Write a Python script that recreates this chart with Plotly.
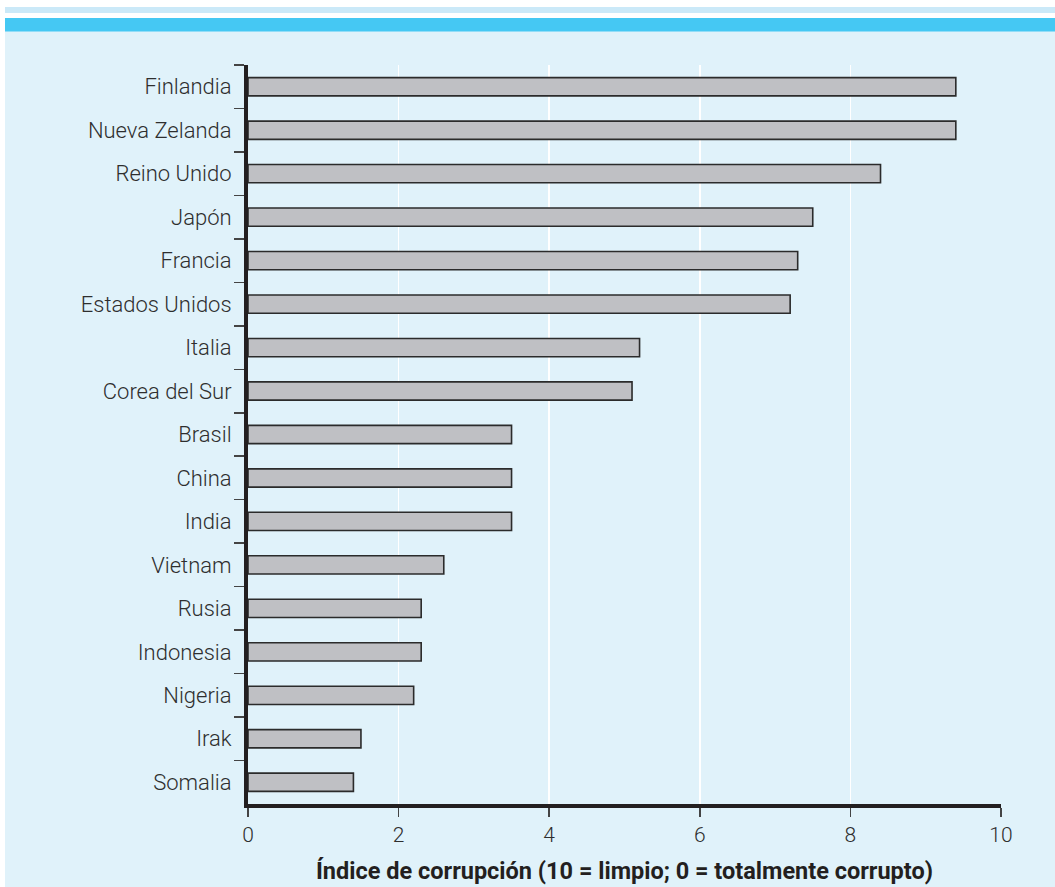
import plotly.graph_objects as go

countries = ["Finlandia", "Nueva Zelanda", "Reino Unido", "Japón", "Francia",
             "Estados Unidos", "Italia", "Corea del Sur", "Brasil", "China",
             "India", "Vietnam", "Rusia", "Indonesia", "Nigeria", "Irak", "Somalia"]
values = [9.4, 9.4, 8.4, 7.5, 7.3, 7.2, 5.2, 5.1, 3.5, 3.5, 3.5, 2.6, 2.3, 2.3, 2.2, 1.5, 1.4]
x_ticks = [0, 2, 4, 6, 8, 10]
x_title = "Índice de corrupción (10 = limpio; 0 = totalmente corrupto)"

W, H = 1055, 887
L, R, T, B = 248, 1001, 65, 804  # plot area in pixels


def px_x(p):
    return (p - L) / (R - L)


def px_y(p):
    return (B - p) / (B - T)


fig = go.Figure(go.Bar(
    x=values, y=countries, orientation="h", width=0.42,
    marker=dict(color="#bfc0c4", line=dict(color="#2b2b2b", width=1.6)),
    hoverinfo="skip",
))

shapes = [
    dict(type="rect", xref="paper", yref="paper", x0=px_x(5), x1=px_x(W), y0=px_y(31), y1=px_y(H + 2),
         fillcolor="#e0f2fa", line=dict(width=0), layer="below"),
    dict(type="rect", xref="paper", yref="paper", x0=px_x(5), x1=px_x(W), y0=px_y(18), y1=px_y(31.5),
         fillcolor="#45c8f3", line=dict(width=0), layer="below"),
    dict(type="rect", xref="paper", yref="paper", x0=px_x(5), x1=px_x(W), y0=px_y(7), y1=px_y(13),
         fillcolor="#cbe9f8", line=dict(width=0), layer="below"),
]

font_family = "Roboto, Liberation Sans, sans-serif"

fig.update_layout(
    width=W, height=H,
    margin=dict(l=L, r=W - R, t=T, b=H - B, pad=0, autoexpand=False),
    paper_bgcolor="white",
    plot_bgcolor="rgba(0,0,0,0)",
    showlegend=False,
    shapes=shapes,
    font=dict(family=font_family, size=22, color="#2e2e2e"),
    xaxis=dict(
        range=[0, 10], tickvals=x_ticks, ticktext=[str(v) for v in x_ticks],
        showgrid=True, gridcolor="white", gridwidth=1.5,
        zeroline=False, automargin=False,
        showline=True, linecolor="#231f20", linewidth=4,
        ticks="outside", ticklen=9, tickwidth=1.5, tickcolor="#444",
        tickfont=dict(size=21, weight=300),
        title=dict(text=x_title, font=dict(size=23.5, weight="bold", color="#231f20"), standoff=17),
        fixedrange=True,
    ),
    yaxis=dict(
        categoryorder="array", categoryarray=countries,
        range=[len(countries) - 0.5, -0.5],
        showgrid=False, zeroline=False, automargin=False,
        showline=True, linecolor="#231f20", linewidth=4,
        ticks="outside", tickson="boundaries", ticklen=10, tickwidth=1.5, tickcolor="#444",
        tickfont=dict(size=22, weight=300),
        ticklabelstandoff=8,
        fixedrange=True,
    ),
)

fig.write_html(
    "out.html",
    config={"displayModeBar": False, "staticPlot": True},
    post_script="document.body.style.margin='0';document.body.style.overflow='hidden';",
)
